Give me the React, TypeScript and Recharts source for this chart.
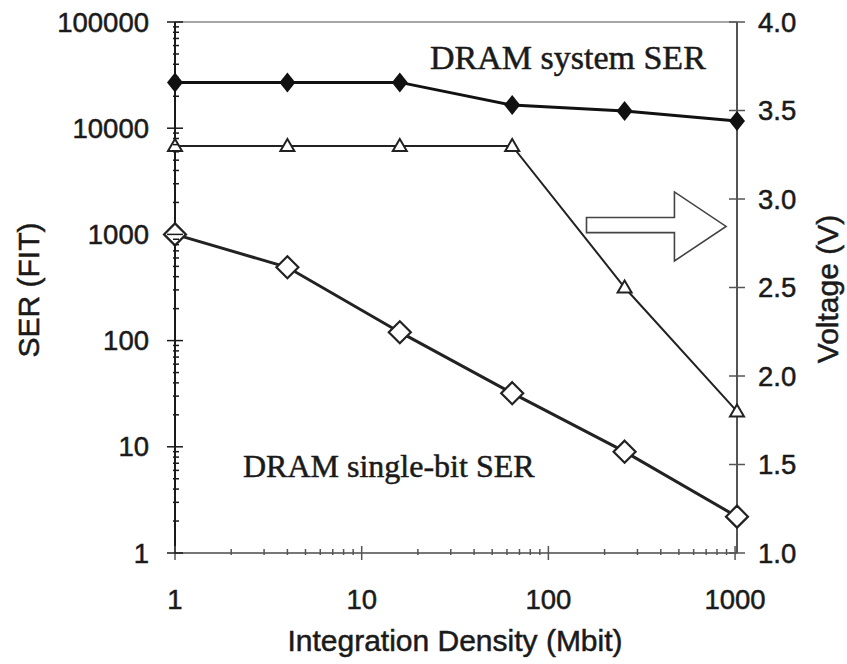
import { LineChart, Line, XAxis, YAxis, ReferenceLine, ReferenceArea } from 'recharts'

// integration density (Mbit) per DRAM generation
const densities = [1, 4, 16, 64, 256, 1024]
// soft error rates in FIT
const systemSer = [27000, 27000, 27000, 16500, 14500, 11700]
const singleBitSer = [1000, 490, 120, 32, 9, 2.2]
// supply voltage (V), right axis
const voltage = [3.3, 3.3, 3.3, 3.3, 2.5, 1.8]

const xMajor = [1, 10, 100, 1000]
const serMajor = [1, 10, 100, 1000, 10000, 100000]
const voltTicks = [1, 1.5, 2, 2.5, 3, 3.5, 4]
const minorSteps = [2, 3, 4, 5, 6, 7, 8, 9]

const data = densities.map((d, i) => ({
  density: d,
  system: systemSer[i],
  single: singleBitSer[i],
  voltage: voltage[i],
}))

const withMinors = (majors: number[]) => {
  const out: number[] = []
  majors.forEach((m, i) => {
    out.push(m)
    if (i < majors.length - 1) minorSteps.forEach((s) => out.push(m * s))
  })
  return out
}
const xTicks = withMinors(xMajor)
const serTicks = withMinors(serMajor)

const SANS = '"Liberation Sans", Arial, sans-serif'
const SERIF = '"Liberation Serif", "Times New Roman", serif'
const INK = '#1a1a1a'
// the scan is a bit blurry/heavy, a thin stroke thickens the glyphs
const heavy = { stroke: INK, strokeWidth: 0.5 }

function XTick({ x, y, payload }: any) {
  const major = xMajor.includes(payload.value)
  return (
    <g>
      <line x1={x} x2={x} y1={y - (major ? 7 : 4)} y2={y + (major ? 7 : 2)} stroke="#555" strokeWidth={1.5} />
      {major && (
        <text x={x} y={y + 46} textAnchor="middle" dominantBaseline="central" fontFamily={SANS} fontSize={27.5} fill={INK} {...heavy}>
          {payload.value}
        </text>
      )}
    </g>
  )
}

function SerTick({ x, y, payload }: any) {
  const major = serMajor.includes(payload.value)
  return (
    <g>
      <line x1={x - (major ? 8 : 2)} x2={x + (major ? 8 : 4)} y1={y} y2={y} stroke={INK} strokeWidth={1.5} />
      {major && (
        <text x={x - 26} y={y} textAnchor="end" dominantBaseline="central" fontFamily={SANS} fontSize={27.5} fill={INK} {...heavy}>
          {payload.value}
        </text>
      )}
    </g>
  )
}

function VoltTick({ x, y, payload }: any) {
  return (
    <g>
      <line x1={x - 8} x2={x + 8} y1={y} y2={y} stroke="#555" strokeWidth={1.5} />
      <text x={x + 21} y={y} textAnchor="start" dominantBaseline="central" fontFamily={SANS} fontSize={27.5} fill={INK} {...heavy}>
        {payload.value.toFixed(1)}
      </text>
    </g>
  )
}

function FilledDiamond({ cx, cy, index }: any) {
  if (cx == null || cy == null) return <g key={index} />
  return <polygon key={index} points={`${cx},${cy - 10} ${cx + 8},${cy} ${cx},${cy + 10} ${cx - 8},${cy}`} fill="#111" />
}

function OpenDiamond({ cx, cy, index }: any) {
  if (cx == null || cy == null) return <g key={index} />
  return (
    <polygon
      key={index}
      points={`${cx},${cy - 11} ${cx + 11},${cy} ${cx},${cy + 11} ${cx - 11},${cy}`}
      fill="#fff"
      stroke="#222"
      strokeWidth={2.2}
    />
  )
}

function OpenTriangle({ cx, cy, index }: any) {
  if (cx == null || cy == null) return <g key={index} />
  return (
    <polygon
      key={index}
      points={`${cx},${cy - 7} ${cx + 7},${cy + 5} ${cx - 7},${cy + 5}`}
      fill="#fff"
      stroke="#222"
      strokeWidth={2}
    />
  )
}

// hollow block arrow pointing at the voltage axis
function ArrowShape({ x, y, width, height }: any) {
  const headX = x + width * 0.63
  const s1 = y + height * 0.37
  const s2 = y + height * 0.59
  const mid = y + height / 2
  const pts = [
    [x, s1], [headX, s1], [headX, y], [x + width, mid],
    [headX, y + height], [headX, s2], [x, s2],
  ].map((p) => p.join(',')).join(' ')
  return <polygon points={pts} fill="#fff" stroke="#444" strokeWidth={1.6} />
}

export default function App() {
  return (
    <div style={{ position: 'absolute', left: 0, top: 0, background: '#fff' }}>
      <LineChart width={847} height={664} data={data} margin={{ top: 22, right: 0, bottom: 0, left: 0 }}>
        <XAxis
          dataKey="density"
          type="number"
          scale="log"
          domain={[1, 1024]}
          ticks={xTicks}
          interval={0}
          tickSize={0}
          tickMargin={0}
          tick={<XTick />}
          height={111}
          axisLine={{ stroke: '#777', strokeWidth: 2 }}
        />
        <YAxis
          yAxisId="ser"
          orientation="left"
          type="number"
          scale="log"
          domain={[1, 100000]}
          ticks={serTicks}
          interval={0}
          tickSize={0}
          tickMargin={0}
          tick={<SerTick />}
          width={175}
          axisLine={{ stroke: INK, strokeWidth: 2 }}
        />
        <YAxis
          yAxisId="v"
          orientation="right"
          type="number"
          domain={[1, 4]}
          ticks={voltTicks}
          interval={0}
          tickSize={0}
          tickMargin={0}
          tick={<VoltTick />}
          width={110}
          axisLine={{ stroke: '#555', strokeWidth: 2 }}
        />
        <ReferenceLine yAxisId="ser" y={100000} stroke="#888" strokeWidth={1.5} />
        <ReferenceArea yAxisId="v" x1={160} x2={895} y1={2.65} y2={3.04} shape={<ArrowShape />} />
        <Line
          yAxisId="v"
          dataKey="voltage"
          stroke="#222"
          strokeWidth={2}
          dot={(p: any) => <OpenTriangle key={p.index} {...p} />}
          isAnimationActive={false}
        />
        <Line
          yAxisId="ser"
          dataKey="system"
          stroke="#111"
          strokeWidth={3}
          dot={(p: any) => <FilledDiamond key={p.index} {...p} />}
          isAnimationActive={false}
        />
        <Line
          yAxisId="ser"
          dataKey="single"
          stroke="#222"
          strokeWidth={3}
          dot={(p: any) => <OpenDiamond key={p.index} {...p} />}
          isAnimationActive={false}
        />
        <text x={28} y={290} transform="rotate(-90 28 290)" textAnchor="middle" dominantBaseline="central" fontFamily={SANS} fontSize={30} fill={INK} {...heavy}>
          SER (FIT)
        </text>
        <text x={827} y={289} transform="rotate(-90 827 289)" textAnchor="middle" dominantBaseline="central" fontFamily={SANS} fontSize={30} fill={INK} {...heavy}>
          Voltage (V)
        </text>
        <text x={455} y={640} textAnchor="middle" dominantBaseline="central" fontFamily={SANS} fontSize={30} fill={INK} {...heavy}>
          Integration Density (Mbit)
        </text>
        <text x={430} y={69} fontFamily={SERIF} fontSize={34} fill={INK} {...heavy}>
          DRAM system SER
        </text>
        <text x={243} y={477} fontFamily={SERIF} fontSize={32} fill={INK} {...heavy}>
          DRAM single-bit SER
        </text>
      </LineChart>
    </div>
  )
}
